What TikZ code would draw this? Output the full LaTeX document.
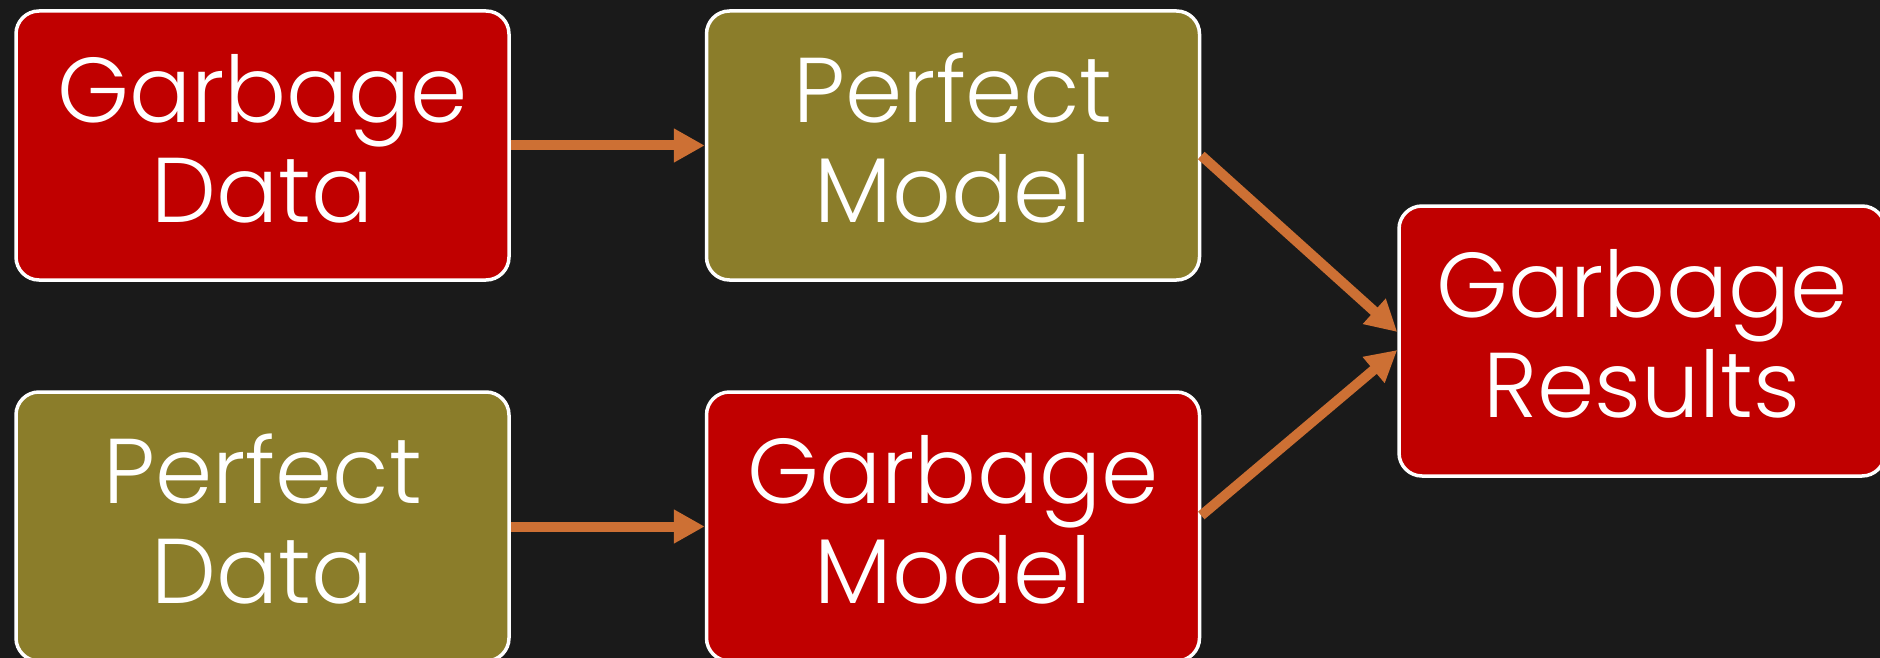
\documentclass[tikz,border=0pt]{standalone}
\usepackage{fontspec}
\setmainfont{Poppins}[UprightFont={* Light}]
\usetikzlibrary{arrows.meta,calc}
\definecolor{bg}{RGB}{26,26,26}
\definecolor{garbred}{RGB}{192,0,0}
\definecolor{olivebox}{RGB}{139,125,42}
\definecolor{connc}{RGB}{205,112,52}
\begin{document}
\begin{tikzpicture}[x=0.5pt,y=-0.5pt,
  box/.style={draw=white,line width=1.75pt,rounded corners=11.5pt,
    minimum width=246.5pt,minimum height=134.5pt,inner sep=0pt},
  lbl/.style={text=white,align=center,inner sep=0pt,yshift=3.5pt,
    font=\fontsize{46}{50}\selectfont},
  bad/.style={box,fill=garbred},
  good/.style={box,fill=olivebox},
  conn/.style={draw=connc,line width=5pt,-{Triangle[length=15.5pt,width=16pt]}}]
\fill[bg] (0,0) rectangle (1880,658);
\useasboundingbox (0,0) rectangle (1880,658);
\clip (0,0) rectangle (1880,658);
\node[bad,  label={[lbl]center:{Garbage\\Data}}]  (gd) at (262.5,145.5) {};
\node[good, label={[lbl]center:{Perfect\\Model}}] (pm) at (953,145.5)   {};
\node[good, label={[lbl]center:{Perfect\\Data}}]  (pd) at (262.5,526.5) {};
\node[bad,  label={[lbl]center:{Garbage\\Model}}] (gm) at (953,526.5)   {};
\node[bad,minimum width=243pt,minimum height=135pt,
      label={[lbl]center:{Garbage\\Results}}] (gr) at (1642,341) {};
\coordinate (pmout) at ($(pm.east)+(0,10)$);
\coordinate (gmout) at ($(gm.east)+(0,-11)$);
\coordinate (grin1) at ($(gr.west)+(0,-9)$);
\coordinate (grin2) at ($(gr.west)+(0,9)$);
\draw[conn] (gd.east) -- (pm.west);
\draw[conn] (pd.east) -- (gm.west);
\draw[conn] (pmout) -- (grin1);
\draw[conn] (gmout) -- (grin2);
\end{tikzpicture}
\end{document}
